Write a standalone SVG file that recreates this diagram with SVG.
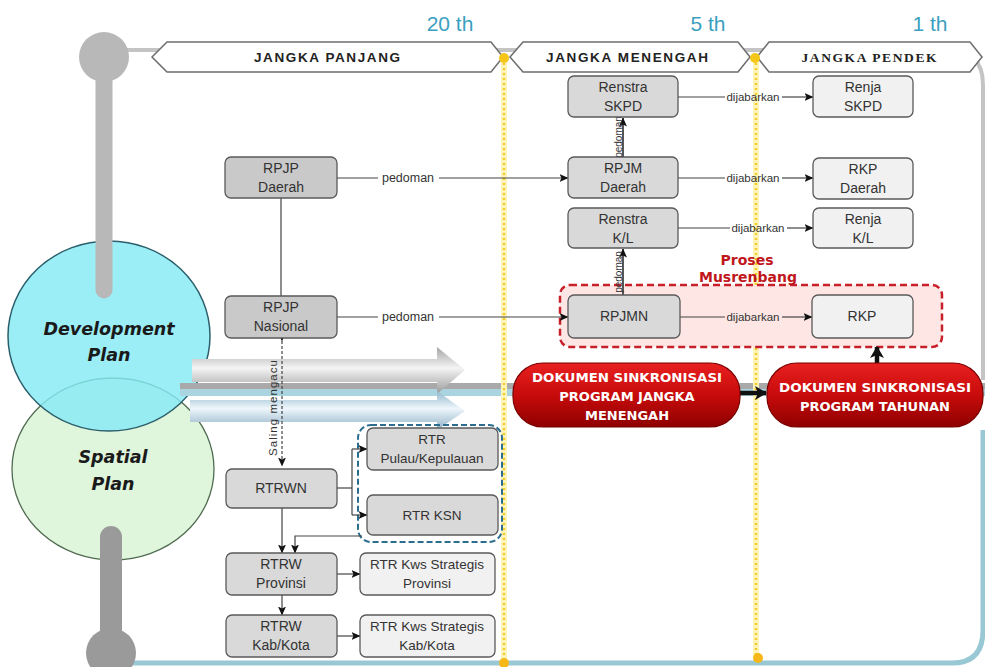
<svg xmlns="http://www.w3.org/2000/svg" width="985" height="667" viewBox="0 0 985 667">
<defs>
<style>
.nd{stroke:#5a5a5a;stroke-width:1.3}
.dk{fill:#c9c9c9}.md{fill:#d9d9d9}.lt{fill:#f1f1f1}
.t{font-family:"Liberation Sans",Arial,sans-serif;font-size:14px;fill:#333;text-anchor:middle}
.ts{font-family:"Liberation Sans",Arial,sans-serif;font-size:13.5px;fill:#333;text-anchor:middle}
.lb{font-family:"Liberation Sans",Arial,sans-serif;font-size:11.5px;fill:#333;text-anchor:middle}
.hd{font-family:"Liberation Sans",Arial,sans-serif;font-size:13.5px;font-weight:bold;fill:#222;text-anchor:middle}
.yr{font-family:"Liberation Sans",Arial,sans-serif;font-size:21px;fill:#3a9fc0;text-anchor:middle}
.rd{font-family:"DejaVu Sans",sans-serif;font-size:13px;font-weight:bold;fill:#fff;text-anchor:middle}
.ln{stroke:#444;stroke-width:1.2;fill:none}
.yl{stroke:#f2cc2a;stroke-width:2.5;stroke-dasharray:2 3;fill:none}
.yg{stroke:#fff4b8;stroke-width:6;fill:none}
.hx{fill:#fff;stroke:#6d6d6d;stroke-width:1.5}
.ci{font-family:"DejaVu Sans",sans-serif;font-size:17.5px;font-weight:bold;font-style:italic;fill:#1a1a1a;text-anchor:middle}
</style>
<marker id="ah" markerWidth="9" markerHeight="8" refX="8.5" refY="4" orient="auto" markerUnits="userSpaceOnUse"><path d="M0,0 L9,4 L0,8 L2,4 z" fill="#111"/></marker>
<marker id="ahb" markerWidth="14" markerHeight="14" refX="11" refY="7" orient="auto" markerUnits="userSpaceOnUse"><path d="M0,0 L12,7 L0,14 L3,7 z" fill="#111"/></marker>
<linearGradient id="gg" x1="0" y1="0" x2="0" y2="1"><stop offset="0" stop-color="#a5a5a5"/><stop offset="0.45" stop-color="#f4f4f4"/><stop offset="1" stop-color="#9a9a9a"/></linearGradient>
<linearGradient id="gb" x1="0" y1="0" x2="0" y2="1"><stop offset="0" stop-color="#8fb6cc"/><stop offset="0.45" stop-color="#eef6fb"/><stop offset="1" stop-color="#8fb0c6"/></linearGradient>
<linearGradient id="gr" x1="0" y1="0" x2="0" y2="1"><stop offset="0" stop-color="#e82020"/><stop offset="0.5" stop-color="#c80b0b"/><stop offset="1" stop-color="#8e0000"/></linearGradient>
</defs>
<rect width="985" height="667" fill="#fff"/>

<!-- frame -->
<path d="M104,50 H948 Q983,50 983,85 V380" stroke="#c4c4c4" stroke-width="4" fill="none"/>
<path d="M111,663 H952 Q983,663 983,630 V430" stroke="#97c8d4" stroke-width="5" fill="none"/>

<!-- circles -->
<g id="spatial-plan">
<ellipse cx="113" cy="469" rx="101" ry="91" fill="#dff5dc" stroke="#4f6b50" stroke-width="1.3"/>
</g>
<g id="development-plan">
<ellipse cx="109" cy="336" rx="101" ry="95" fill="#86eaf4" fill-opacity="0.82" stroke="#2b5f6b" stroke-width="1.5"/>
</g>
<!-- stems -->
<line x1="104" y1="57" x2="104" y2="290" stroke="#b8b8b8" stroke-width="17" stroke-linecap="round"/>
<circle cx="104" cy="57" r="25" fill="#b8b8b8"/>
<line x1="111" y1="537" x2="111" y2="650" stroke="#9a9a9a" stroke-width="22" stroke-linecap="round"/>
<circle cx="111" cy="653" r="25" fill="#9a9a9a"/>
<text class="ci" x="109" y="335">Development</text>
<text class="ci" x="109" y="361">Plan</text>
<text class="ci" x="113" y="463">Spatial</text>
<text class="ci" x="113" y="490">Plan</text>

<!-- bands and big arrows -->
<rect x="180" y="383" width="805" height="6" fill="#a9a9a9"/>
<rect x="180" y="389" width="805" height="7" fill="#a9d4e0"/>
<path d="M192,359 H437 V347 L465,370 L437,394 V382 H192 Z" fill="url(#gg)"/>
<path d="M190,400 H437 V391 L465,411 L437,430 V422 H190 Z" fill="url(#gb)"/>

<!-- yellow dotted lines -->
<line class="yg" x1="504" y1="58" x2="504" y2="663"/>
<line class="yl" x1="504" y1="58" x2="504" y2="663"/>
<line class="yg" x1="756" y1="58" x2="756" y2="658"/>
<line class="yl" x1="756" y1="58" x2="756" y2="658"/>

<!-- headers -->
<g id="jangka-panjang">
<path class="hx" d="M152,57 L167,42 H491 L503,57 L491,72 H167 Z"/>
<text class="hd" x="327" y="62" textLength="146" lengthAdjust="spacing">JANGKA PANJANG</text>
</g>
<g id="jangka-menengah">
<path class="hx" d="M510,57 L523,42 H738 L750,57 L738,72 H523 Z"/>
<text class="hd" x="627" y="62" textLength="162" lengthAdjust="spacing">JANGKA MENENGAH</text>
</g>
<g id="jangka-pendek">
<path class="hx" d="M757,57 L769,42 H970 L982,57 L970,72 H769 Z"/>
<text class="hd" x="869" y="62" style="font-family:'Liberation Serif',serif;font-size:13.5px" textLength="135" lengthAdjust="spacing">JANGKA PENDEK</text>
</g>
<circle cx="504" cy="58" r="5" fill="#f5c518"/>
<circle cx="755" cy="58" r="5" fill="#f5c518"/>
<circle cx="504" cy="663" r="5" fill="#f5b818"/>
<circle cx="758" cy="658" r="5" fill="#f5b818"/>
<text class="yr" x="450" y="31">20 th</text>
<text class="yr" x="708" y="31">5 th</text>
<text class="yr" x="930" y="31">1 th</text>

<!-- red dashed musrenbang box -->
<g id="musrenbang">
<rect x="560" y="285" width="382" height="62" rx="10" fill="#fde6e3" stroke="#c8202a" stroke-width="2.5" stroke-dasharray="7 4"/>
<text x="747" y="265" style="font-family:'DejaVu Sans',sans-serif;font-size:14px;font-weight:bold;fill:#c0161c;text-anchor:middle">Proses</text>
<text x="748" y="282" style="font-family:'DejaVu Sans',sans-serif;font-size:14px;font-weight:bold;fill:#c0161c;text-anchor:middle">Musrenbang</text>
</g>
<!-- blue dashed box -->
<rect x="358" y="425" width="144" height="117" rx="13" fill="none" stroke="#2b6d8f" stroke-width="2" stroke-dasharray="6 3"/>

<!-- connectors -->
<g id="connectors">
<line class="ln" x1="281" y1="198" x2="281" y2="296"/>
<line class="ln" x1="337" y1="178" x2="378" y2="178"/>
<line class="ln" x1="439" y1="178" x2="568" y2="178" marker-end="url(#ah)"/>
<text class="lb" x="408" y="182" style="font-size:12.5px">pedoman</text>
<line class="ln" x1="337" y1="317" x2="378" y2="317"/>
<line class="ln" x1="439" y1="317" x2="568" y2="317" marker-end="url(#ah)"/>
<text class="lb" x="408" y="321" style="font-size:12.5px">pedoman</text>

<line class="ln" x1="678" y1="97" x2="725" y2="97"/>
<line class="ln" x1="782" y1="97" x2="813" y2="97" marker-end="url(#ah)"/>
<text class="lb" x="753" y="101">dijabarkan</text>
<line class="ln" x1="678" y1="178" x2="725" y2="178"/>
<line class="ln" x1="782" y1="178" x2="813" y2="178" marker-end="url(#ah)"/>
<text class="lb" x="753" y="182">dijabarkan</text>
<line class="ln" x1="678" y1="228" x2="730" y2="228"/>
<line class="ln" x1="787" y1="228" x2="813" y2="228" marker-end="url(#ah)"/>
<text class="lb" x="758" y="232">dijabarkan</text>
<line class="ln" x1="680" y1="317" x2="725" y2="317"/>
<line class="ln" x1="782" y1="317" x2="812" y2="317" marker-end="url(#ah)"/>
<text class="lb" x="753" y="321">dijabarkan</text>

<line class="ln" x1="623" y1="157" x2="623" y2="118" marker-end="url(#ah)" style="stroke-width:1.8"/>
<text class="lb" transform="translate(618,137) rotate(-90)" style="font-size:10px" dy="3.5">pedoman</text>
<line class="ln" x1="623" y1="295" x2="623" y2="249" marker-end="url(#ah)" style="stroke-width:1.8"/>
<text class="lb" transform="translate(618,272) rotate(-90)" style="font-size:10px" dy="3.5">pedoman</text>

<line class="ln" x1="282" y1="341" x2="282" y2="466" stroke-dasharray="3 2" marker-start="url(#ah)" marker-end="url(#ah)"/>
<text class="lb" transform="translate(273,408) rotate(-90)" dy="4" textLength="96" lengthAdjust="spacing">Saling mengacu</text>

<polyline class="ln" points="337,488 352,488"/>
<polyline class="ln" points="352,449 352,515"/>
<line class="ln" x1="352" y1="449" x2="367" y2="449" marker-end="url(#ah)"/>
<line class="ln" x1="352" y1="515" x2="367" y2="515" marker-end="url(#ah)"/>
<line class="ln" x1="282" y1="508" x2="282" y2="553" marker-end="url(#ah)"/>
<polyline class="ln" points="362,536 295,536 295,553" marker-end="url(#ah)"/>
<line class="ln" x1="337" y1="574" x2="360" y2="574" marker-end="url(#ah)"/>
<line class="ln" x1="282" y1="595" x2="282" y2="615" marker-end="url(#ah)"/>
<line class="ln" x1="337" y1="636" x2="360" y2="636" marker-end="url(#ah)"/>

<line x1="740" y1="393" x2="766" y2="393" stroke="#111" stroke-width="4.5" marker-end="url(#ahb)"/>
<line x1="877" y1="363" x2="877" y2="347" stroke="#111" stroke-width="4.5" marker-end="url(#ahb)"/>
</g>

<!-- nodes -->
<g id="rpjp-daerah"><rect class="nd dk" x="225" y="157" width="112" height="41" rx="6"/><text class="t" x="281" y="173">RPJP</text><text class="t" x="281" y="192">Daerah</text></g>
<g id="rpjp-nasional"><rect class="nd dk" x="225" y="296" width="112" height="42" rx="6"/><text class="t" x="281" y="312">RPJP</text><text class="t" x="281" y="331">Nasional</text></g>
<g id="renstra-skpd"><rect class="nd md" x="568" y="76" width="110" height="41" rx="6"/><text class="t" x="623" y="92">Renstra</text><text class="t" x="623" y="111">SKPD</text></g>
<g id="rpjm-daerah"><rect class="nd md" x="568" y="157" width="110" height="41" rx="6"/><text class="t" x="623" y="173">RPJM</text><text class="t" x="623" y="192">Daerah</text></g>
<g id="renstra-kl"><rect class="nd md" x="568" y="208" width="110" height="40" rx="6"/><text class="t" x="623" y="224">Renstra</text><text class="t" x="623" y="243">K/L</text></g>
<g id="rpjmn"><rect class="nd md" x="568" y="295" width="112" height="43" rx="6"/><text class="t" x="624" y="321">RPJMN</text></g>
<g id="renja-skpd"><rect class="nd lt" x="813" y="76" width="100" height="41" rx="6"/><text class="t" x="863" y="92">Renja</text><text class="t" x="863" y="111">SKPD</text></g>
<g id="rkp-daerah"><rect class="nd lt" x="813" y="158" width="100" height="41" rx="6"/><text class="t" x="863" y="174">RKP</text><text class="t" x="863" y="193">Daerah</text></g>
<g id="renja-kl"><rect class="nd lt" x="813" y="208" width="100" height="40" rx="6"/><text class="t" x="863" y="224">Renja</text><text class="t" x="863" y="243">K/L</text></g>
<g id="rkp"><rect class="nd lt" x="812" y="295" width="101" height="43" rx="6"/><text class="t" x="862" y="321">RKP</text></g>

<g id="rtrwn"><rect class="nd md" x="226" y="469" width="111" height="39" rx="6"/><text class="t" x="281" y="493">RTRWN</text></g>
<g id="rtr-pulau"><rect class="nd md" x="367" y="428" width="131" height="42" rx="6"/><text class="ts" x="432" y="444">RTR</text><text class="ts" x="432" y="463">Pulau/Kepulauan</text></g>
<g id="rtr-ksn"><rect class="nd md" x="367" y="495" width="131" height="40" rx="6"/><text class="ts" x="432" y="520">RTR KSN</text></g>
<g id="rtrw-provinsi"><rect class="nd md" x="226" y="553" width="111" height="42" rx="6"/><text class="t" x="281" y="569">RTRW</text><text class="t" x="281" y="588">Provinsi</text></g>
<g id="rtr-kws-provinsi"><rect class="nd lt" x="360" y="553" width="135" height="42" rx="6"/><text class="ts" x="427" y="569">RTR Kws Strategis</text><text class="ts" x="427" y="588">Provinsi</text></g>
<g id="rtrw-kabkota"><rect class="nd md" x="226" y="615" width="111" height="42" rx="6"/><text class="t" x="281" y="631">RTRW</text><text class="t" x="281" y="650">Kab/Kota</text></g>
<g id="rtr-kws-kabkota"><rect class="nd lt" x="360" y="615" width="135" height="42" rx="6"/><text class="ts" x="427" y="631">RTR Kws Strategis</text><text class="ts" x="427" y="650">Kab/Kota</text></g>

<g id="dok-menengah">
<rect x="513" y="363" width="227" height="64" rx="30" fill="url(#gr)" stroke="#7a0000" stroke-width="1.2"/>
<text class="rd" x="627" y="382" textLength="190" lengthAdjust="spacingAndGlyphs">DOKUMEN SINKRONISASI</text>
<text class="rd" x="627" y="401">PROGRAM JANGKA</text>
<text class="rd" x="627" y="420">MENENGAH</text>
</g>
<g id="dok-tahunan">
<rect x="767" y="363" width="216" height="64" rx="30" fill="url(#gr)" stroke="#7a0000" stroke-width="1.2"/>
<text class="rd" x="875" y="392" textLength="192" lengthAdjust="spacingAndGlyphs">DOKUMEN SINKRONISASI</text>
<text class="rd" x="875" y="411">PROGRAM TAHUNAN</text>
</g>
</svg>
